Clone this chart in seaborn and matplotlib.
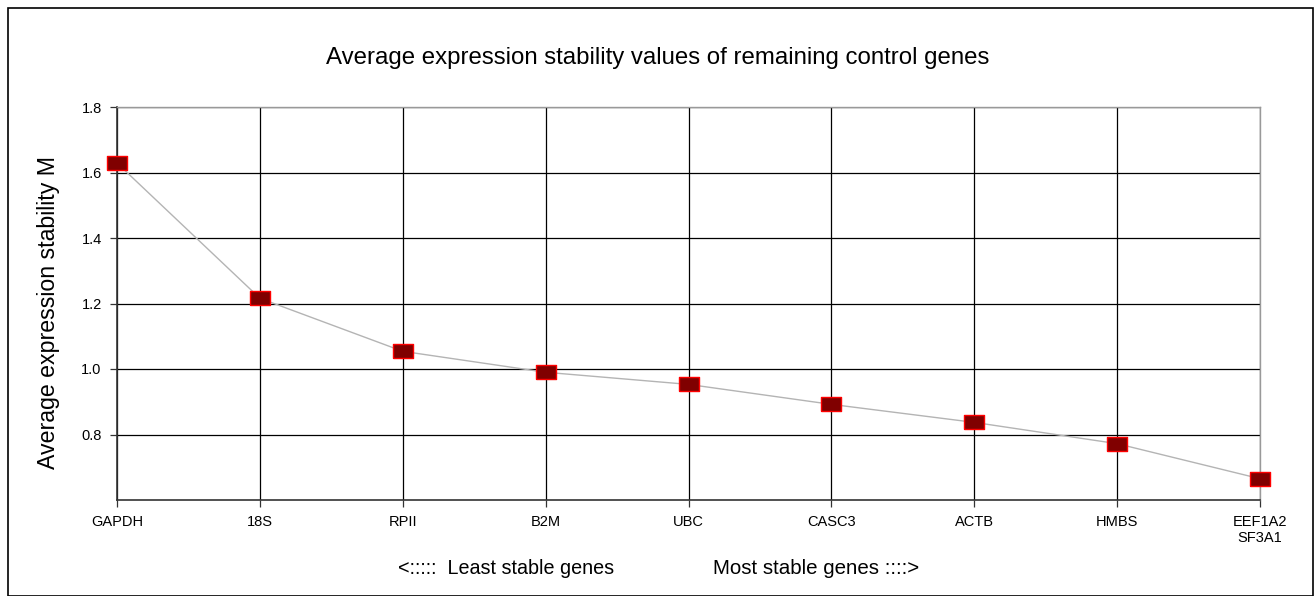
import matplotlib
matplotlib.use("Agg")
import matplotlib.pyplot as plt
import seaborn as sns
import pandas as pd
from matplotlib.patches import Rectangle

genes = ["GAPDH", "18S", "RPII", "B2M", "UBC", "CASC3", "ACTB", "HMBS", "EEF1A2\nSF3A1"]
m_values = [1.629, 1.216, 1.054, 0.990, 0.953, 0.892, 0.837, 0.772, 0.665]
y_ticks = [0.8, 1.0, 1.2, 1.4, 1.6, 1.8]

sns.set_style("white")
plt.rcParams["font.family"] = ["Liberation Sans", "DejaVu Sans"]
plt.rcParams["text.color"] = "black"
plt.rcParams["axes.labelcolor"] = "black"
plt.rcParams["xtick.color"] = "black"
plt.rcParams["ytick.color"] = "black"

df = pd.DataFrame({"pos": range(len(genes)), "M": m_values})

fig = plt.figure(figsize=(13.16, 5.96), dpi=100)
ax = fig.add_axes([117/1316, 1-500/596, (1260-117)/1316, (500-107)/596])

rect_marker = [(-1, -0.78), (1, -0.78), (1, 0.78), (-1, 0.78), (-1, -0.78)]
sns.lineplot(data=df, x="pos", y="M", ax=ax, color="#b4b4b4", linewidth=1.0, zorder=3)
sns.scatterplot(data=df, x="pos", y="M", ax=ax, marker=rect_marker, s=190,
                color="#800000", edgecolor="#ff0000", linewidth=1.0, zorder=4,
                clip_on=False)

ax.set_xlim(0, len(genes)-1)
ax.set_ylim(0.6, 1.8)
ax.set_xticks(range(len(genes)))
ax.set_xticklabels(genes, fontsize=10.5, linespacing=1.2)
ax.set_yticks(y_ticks)
ax.set_yticklabels([f"{v:.1f}" for v in y_ticks], fontsize=10.5)
ax.grid(True, color="black", linewidth=0.9)
ax.set_axisbelow(True)
ax.tick_params(axis="both", direction="out", length=5, width=0.9, color="#333333", pad=6,
               bottom=True, left=True, labelcolor="black")
for s in ["left", "bottom"]:
    ax.spines[s].set_color("#333333")
    ax.spines[s].set_linewidth(1.2)
for s in ["top", "right"]:
    ax.spines[s].set_color("#999999")
    ax.spines[s].set_linewidth(1.0)

ax.set_xlabel("")
ax.set_ylabel("Average expression stability M", fontsize=16.7, color="black")
ax.yaxis.set_label_coords(-0.05, 0.478)

fig.text(658/1316, 1-58/596, "Average expression stability values of remaining control genes",
         ha="center", va="center", fontsize=17.3, color="black")
fig.text(398/1316, 1-569/596, "<:::::  Least stable genes", ha="left", va="center",
         fontsize=14.2, color="black")
fig.text(713/1316, 1-569/596, "Most stable genes ::::>", ha="left", va="center",
         fontsize=14.8, color="black")

fig.patches.append(Rectangle((8/1316, 0), (1313-8)/1316, 1-8/596, transform=fig.transFigure,
                             fill=False, edgecolor="black", linewidth=1.2))

fig.savefig("out.png", dpi=100)
